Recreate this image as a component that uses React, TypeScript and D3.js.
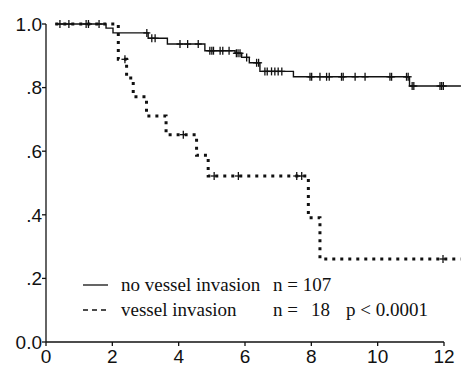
import React from 'react';
import * as d3 from 'd3';

const xTicks = [0, 2, 4, 6, 8, 10, 12];
const xTickLabels = ['0', '2', '4', '6', '8', '10', '12'];
const yTicks = [0, 0.2, 0.4, 0.6, 0.8, 1.0];
const yTickLabels = ['0.0', '.2', '.4', '.6', '.8', '1.0'];

// no vessel invasion (n = 107)
const noInvTimes = [0.28, 1.81, 2.02, 3.08, 3.66, 4.79, 5.7, 5.9, 6.13, 6.45, 7.46, 10.96];
const noInvSurv = [1.0, 0.987, 0.972, 0.955, 0.937, 0.916, 0.908, 0.895, 0.878, 0.851, 0.834, 0.805];
const noInvEnd = 12.51;
const noInvCensor = [
  0.42, 0.69, 1.21, 1.28, 1.6, 3.04, 3.19, 3.29, 4.04, 4.27, 4.59, 4.94, 5.0, 5.05, 5.25, 5.33,
  5.52, 5.74, 5.79, 5.85, 6.05, 6.35, 6.41, 6.6, 6.67, 6.8, 6.9, 7.0, 7.11, 7.96, 8.01, 8.26,
  8.46, 8.54, 8.91, 8.96, 9.32, 9.62, 10.37, 10.42, 10.87, 10.92, 11.04, 11.09, 11.88, 11.93, 11.98,
];

// vessel invasion (n = 18)
const invTimes = [0.28, 2.18, 2.43, 2.63, 3.03, 3.62, 4.54, 4.89, 7.91, 8.26];
const invSurv = [1.0, 0.889, 0.83, 0.771, 0.711, 0.652, 0.587, 0.522, 0.391, 0.261];
const invEnd = 12.5;
const invCensor = [2.38, 4.14, 5.07, 5.8, 7.56, 7.71, 11.97];

const W = 461;
const H = 367;
const x = d3.scaleLinear().domain([0, 12]).range([46, 444]);
const y = d3.scaleLinear().domain([0, 1]).range([342, 24]);

function stepPts(times: number[], surv: number[], end: number): [number, number][] {
  const pts: [number, number][] = times.map((t, i) => [t, surv[i]]);
  pts.push([end, surv[surv.length - 1]]);
  return pts;
}

function survAt(times: number[], surv: number[], t: number) {
  let v = surv[0];
  for (let i = 0; i < times.length; i++) if (times[i] <= t) v = surv[i];
  return v;
}

const line = d3
  .line<[number, number]>()
  .x((d) => x(d[0]))
  .y((d) => y(d[1]))
  .curve(d3.curveStepAfter);

const ink = '#111';

function Censor({ cx, cy }: { cx: number; cy: number }) {
  return (
    <g stroke={ink} strokeWidth={1.3}>
      <line x1={cx} x2={cx} y1={cy - 4} y2={cy + 4} />
      <line x1={cx - 3.5} x2={cx + 3.5} y1={cy} y2={cy} />
    </g>
  );
}

export default function App() {
  const serif = '"Liberation Serif", "Times New Roman", serif';
  const sans = '"Liberation Sans", Arial, sans-serif';
  return (
    <svg
      width={W}
      height={H}
      style={{ position: 'absolute', left: 0, top: 0, background: '#fff' }}
    >
      {/* axes */}
      <g stroke={ink} strokeWidth={1.3} fill="none">
        <line x1={x(0)} x2={x(0)} y1={y(0)} y2={y(1)} />
        <line x1={x(0)} x2={x(12)} y1={y(0)} y2={y(0)} />
        {yTicks.map((v) => (
          <line key={'yt' + v} x1={x(0) - 4} x2={x(0)} y1={y(v)} y2={y(v)} />
        ))}
        {xTicks.map((v) => (
          <line key={'xt' + v} x1={x(v)} x2={x(v)} y1={y(0)} y2={y(0) + 4} />
        ))}
      </g>
      <g fontFamily={sans} fontSize={19} fill={ink}>
        {yTicks.map((v, i) => (
          <text key={'yl' + v} x={42} y={y(v)} dy="0.36em" textAnchor="end">
            {yTickLabels[i]}
          </text>
        ))}
        {xTicks.map((v, i) => (
          <text key={'xl' + v} x={x(v)} y={363} textAnchor="middle">
            {xTickLabels[i]}
          </text>
        ))}
      </g>

      {/* no vessel invasion */}
      <path
        d={line(stepPts(noInvTimes, noInvSurv, noInvEnd)) || ''}
        fill="none"
        stroke={ink}
        strokeWidth={1.4}
      />
      {noInvCensor.map((t, i) => (
        <Censor key={'nc' + i} cx={x(t)} cy={y(survAt(noInvTimes, noInvSurv, t))} />
      ))}

      {/* vessel invasion */}
      <path
        d={line(stepPts(invTimes, invSurv, invEnd)) || ''}
        fill="none"
        stroke={ink}
        strokeWidth={3}
        strokeDasharray="3 5"
      />
      {invCensor.map((t, i) => (
        <Censor key={'ic' + i} cx={x(t)} cy={y(survAt(invTimes, invSurv, t))} />
      ))}

      {/* legend */}
      <g stroke={ink} strokeWidth={1.3}>
        <line x1={83} x2={108} y1={285} y2={285} />
        <line x1={83} x2={108} y1={310} y2={310} strokeDasharray="5 4" />
      </g>
      <g fontFamily={serif} fontSize={19} fill={ink}>
        <text x={121} y={291}>no vessel invasion</text>
        <text x={273} y={291}>n = 107</text>
        <text x={121} y={316}>vessel invasion</text>
        <text x={273} y={316}>n =</text>
        <text x={330} y={316} textAnchor="end">18</text>
        <text x={346} y={316}>p &lt; 0.0001</text>
      </g>
    </svg>
  );
}
